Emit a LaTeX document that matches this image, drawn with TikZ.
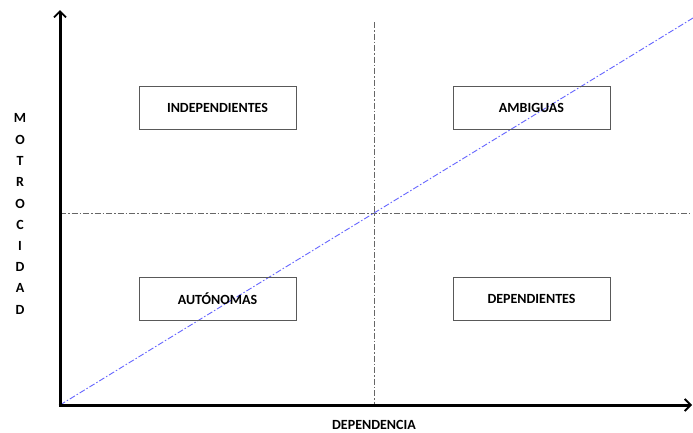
\documentclass[tikz,border=0pt]{standalone}
\usepackage{fontspec}
\setmainfont{Carlito}
\usetikzlibrary{arrows.meta}
\begin{document}
\begin{tikzpicture}[x=1pt,y=-1pt,
  quad/.style={draw=black!65,line width=0.9pt,minimum width=157pt,minimum height=43pt,inner sep=0pt,font=\bfseries\fontsize{14}{16}\selectfont},
  axis/.style={line width=3pt,-{Straight Barb[length=6pt,width=12pt,line width=1.8pt]}},
  guide/.style={black!60,line width=0.9pt,dash pattern=on 6pt off 2pt on 1.5pt off 2pt},
  diag/.style={blue!60,line width=0.9pt,dash pattern=on 6pt off 2pt on 1.5pt off 2pt},
  vlet/.style={font=\bfseries\fontsize{14}{16}\selectfont,inner sep=0pt}]
\useasboundingbox (0,0) rectangle (693,432);
\coordinate (O) at (60,405);
\coordinate (vt) at (374,22);
\coordinate (vb) at (374,405);
\coordinate (hl) at (60,213);
\coordinate (hr) at (690,213);
\coordinate (dend) at (693,18);
\coordinate (ys) at (60,406.5);
\coordinate (yend) at (60,10);
\coordinate (xs) at (58.5,405);
\coordinate (xend) at (692,405);
% guides
\draw[guide] (vt) -- (vb);
\draw[guide] (hl) -- (hr);
\draw[diag] (O) -- (dend);
% axes
\draw[axis] (ys) -- (yend);
\draw[axis] (xs) -- (xend);
% boxes
\node[quad] (ind) at (217.5,107.5) {INDEPENDIENTES};
\node[quad] (amb) at (531.5,107.5) {AMBIGUAS};
\node[quad] (aut) at (217.5,298.5) {AUTÓNOMAS};
\node[quad] (dep) at (531.5,298.5) {DEPENDIENTES};
% labels
\node[vlet] (l1) at (20,118) {M};
\node[vlet] (l2) at (20,139.5) {O};
\node[vlet] (l3) at (20,161) {T};
\node[vlet] (l4) at (20,182) {R};
\node[vlet] (l5) at (20,203.5) {O};
\node[vlet] (l6) at (20,225) {C};
\node[vlet] (l7) at (20,246) {I};
\node[vlet] (l8) at (20,267) {D};
\node[vlet] (l9) at (20,288) {A};
\node[vlet] (l10) at (20,309.5) {D};
\node[vlet] (xl) at (374,425) {DEPENDENCIA};
\end{tikzpicture}
\end{document}
